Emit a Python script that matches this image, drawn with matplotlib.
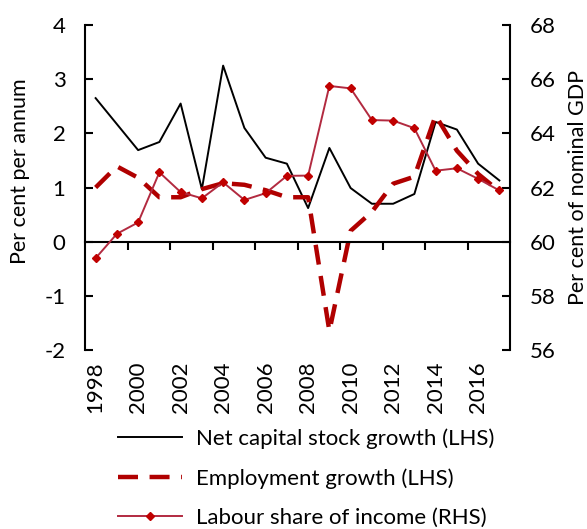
import matplotlib
matplotlib.use("Agg")
import matplotlib.pyplot as plt
import numpy as np

plt.rcParams['font.family'] = ['Lato', 'DejaVu Sans']
plt.rcParams['axes.unicode_minus'] = False

# data
years = list(range(1998, 2018))
capital_growth = [2.65, 2.17, 1.69, 1.84, 2.55, 0.97, 3.25, 2.10, 1.55, 1.44,
                  0.62, 1.73, 0.99, 0.70, 0.70, 0.88, 2.21, 2.07, 1.44, 1.13]
employment_growth = [1.00, 1.39, 1.18, 0.82, 0.82, 0.97, 1.08, 1.05, 0.95, 0.82,
                     0.82, -1.65, 0.20, 0.55, 1.07, 1.20, 2.33, 1.68, 1.25, 0.93]
labour_share = [59.39, 60.29, 60.71, 62.56, 61.83, 61.60, 62.19, 61.54, 61.79, 62.43,
                62.44, 65.75, 65.66, 64.49, 64.47, 64.19, 62.62, 62.71, 62.32, 61.89]
year_labels = [str(y) for y in years[::2]]

x = np.arange(len(years))

fig = plt.figure(figsize=(5.87, 5.29), dpi=100)
ax = fig.add_axes([85 / 587, 1 - 350 / 529, 425 / 587, 325 / 529])
ax2 = ax.twinx()

l1, = ax.plot(x, capital_growth, color='black', lw=1.4,
              label='Net capital stock growth (LHS)')
l2, = ax.plot(x, employment_growth, color='#B00000', lw=3.2,
              linestyle=(0, (4.5, 2.6)), label='Employment growth (LHS)')
l3, = ax2.plot(x, labour_share, color='#B22A40', lw=1.4, marker='D',
               markersize=4, markerfacecolor='#C00000', markeredgecolor='#C00000',
               label='Labour share of income (RHS)')

ax.set_xlim(-0.5, len(years) - 0.5)
ax.set_ylim(-2, 4)
ax2.set_ylim(56, 68)
ax.set_yticks(range(-2, 5))
ax2.set_yticks(range(56, 69, 2))

for a in (ax, ax2):
    a.spines['top'].set_visible(False)
ax.spines['right'].set_visible(False)
ax2.spines['left'].set_visible(False)
ax2.spines['bottom'].set_visible(False)
ax.spines['bottom'].set_position(('data', 0))
for s in ['left', 'bottom']:
    ax.spines[s].set_linewidth(1.5)
ax2.spines['right'].set_linewidth(1.5)

ax.tick_params(axis='y', direction='in', length=6, width=1.5, labelsize=16, pad=14)
ax2.tick_params(axis='y', direction='in', length=6, width=1.5, labelsize=16, pad=14)

# category boundary ticks on the zero line
ax.set_xticks(np.arange(1.5, len(years) - 1, 2))
ax.tick_params(axis='x', direction='out', length=6, width=1.5, labelbottom=False)

# year labels at the bottom of the plot
sec = ax.secondary_xaxis('bottom')
sec.set_xticks(x[::2], year_labels, rotation=90)
sec.tick_params(axis='x', length=0, labelsize=16, pad=8)
sec.spines['bottom'].set_visible(False)

ax.set_ylabel('Per cent per annum', fontsize=15.5)
ax.yaxis.set_label_coords(-0.129, 0.55)
ax2.set_ylabel('Per cent of nominal GDP', fontsize=15.5)
ax2.yaxis.set_label_coords(1.136, 0.5)

fig.legend(handles=[l1, l2, l3], loc='upper left',
           bbox_to_anchor=(118 / 587, 1 - 428 / 529), frameon=False,
           borderaxespad=0, borderpad=0,
           fontsize=16, handlelength=2.9, labelspacing=0.87, handletextpad=0.6)

fig.savefig('out.png', dpi=100)
